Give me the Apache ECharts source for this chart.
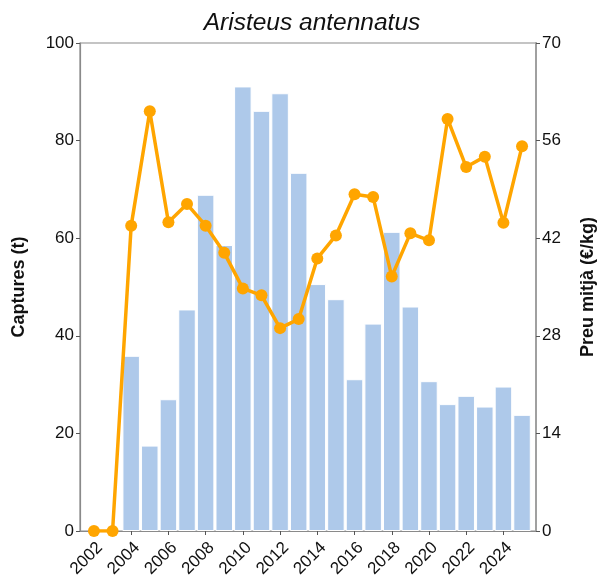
<!DOCTYPE html>
<html>
<head>
<meta charset="utf-8">
<script src="https://cdn.jsdelivr.net/npm/echarts@6/dist/echarts.min.js"></script>
<style>html,body{margin:0;padding:0;background:#fff;}#c{width:598px;height:581px;}</style>
</head>
<body>
<div id="c"></div>
<script>
const years = [2002,2003,2004,2005,2006,2007,2008,2009,2010,2011,2012,2013,2014,2015,2016,2017,2018,2019,2020,2021,2022,2023,2024,2025];
const captures = [null,null,35.9,17.5,27.0,45.4,68.9,58.6,91.1,86.1,89.7,73.4,50.6,47.5,31.1,42.5,61.3,46.0,30.7,26.0,27.7,25.5,29.6,23.8];
const prices = [0,0,43.8,60.2,44.3,46.9,43.8,39.9,34.8,33.8,29.1,30.4,39.1,42.4,48.3,47.9,36.5,42.7,41.7,59.1,52.2,53.7,44.2,55.2];
const xTickLabels = [2002,2004,2006,2008,2010,2012,2014,2016,2018,2020,2022,2024];
const leftTicks = {min:0, max:100, interval:20};
const rightTicks = {min:0, max:70, interval:14};

const font = 'Liberation Sans, Arial, sans-serif';
const chart = echarts.init(document.getElementById('c'), null, {renderer:'canvas'});
chart.setOption({
  animation:false,
  title:{text:'Aristeus antennatus', left:307, textAlign:'center', top:6,
    textStyle:{fontFamily:font, fontStyle:'italic', fontWeight:'normal', fontSize:24.5, color:'#111'}},
  grid:{left:80, right:62, top:43, bottom:50, show:true, containLabel:false, outerBoundsMode:'none',
    borderColor:'#8a8a8a', borderWidth:1.2, backgroundColor:'transparent'},
  xAxis:{type:'value', min:2001.25, max:2025.75,
    axisLine:{show:true, onZero:false, lineStyle:{color:'#8a8a8a', width:1.2}},
    splitLine:{show:false},
    axisTick:{show:true, length:4, customValues:xTickLabels, lineStyle:{color:'#555'}},
    axisLabel:{customValues:xTickLabels, rotate:45, fontFamily:font, fontSize:17, color:'#111', margin:8, verticalAlign:'top', formatter:v=>String(v)}},
  yAxis:[
    {type:'value', min:leftTicks.min, max:leftTicks.max, interval:leftTicks.interval, position:'left',
     name:'Captures (t)', nameLocation:'middle', nameGap:52, nameRotate:90,
     nameTextStyle:{fontFamily:font, fontWeight:'bold', fontSize:18, color:'#111'},
     axisLine:{show:true, lineStyle:{color:'#8a8a8a', width:1.2}},
     axisTick:{show:true, length:4, lineStyle:{color:'#555'}},
     splitLine:{show:false},
     axisLabel:{fontFamily:font, fontSize:17, color:'#111', margin:6}},
    {type:'value', min:rightTicks.min, max:rightTicks.max, interval:rightTicks.interval, position:'right',
     name:'Preu mitjà (€/kg)', nameLocation:'middle', nameGap:43, nameRotate:90,
     nameTextStyle:{fontFamily:font, fontWeight:'bold', fontSize:18, color:'#111'},
     axisLine:{show:true, lineStyle:{color:'#a0a0a0', width:2}},
     axisTick:{show:true, length:4, lineStyle:{color:'#555'}},
     splitLine:{show:false},
     axisLabel:{fontFamily:font, fontSize:17, color:'#111', margin:6}}
  ],
  series:[
    {type:'bar', yAxisIndex:0, barWidth:17.5,
     itemStyle:{color:'#aec9ea', borderColor:'#ffffff', borderWidth:1},
     data:years.map((y,i)=>[y,captures[i]]).filter(d=>d[1]!==null)},
    {type:'line', yAxisIndex:1, symbol:'circle', symbolSize:12,
     lineStyle:{color:'#ffa500', width:3.5}, itemStyle:{color:'#ffa500'},
     z:5, data:years.map((y,i)=>[y,prices[i]])}
  ]
});
</script>
</body>
</html>
